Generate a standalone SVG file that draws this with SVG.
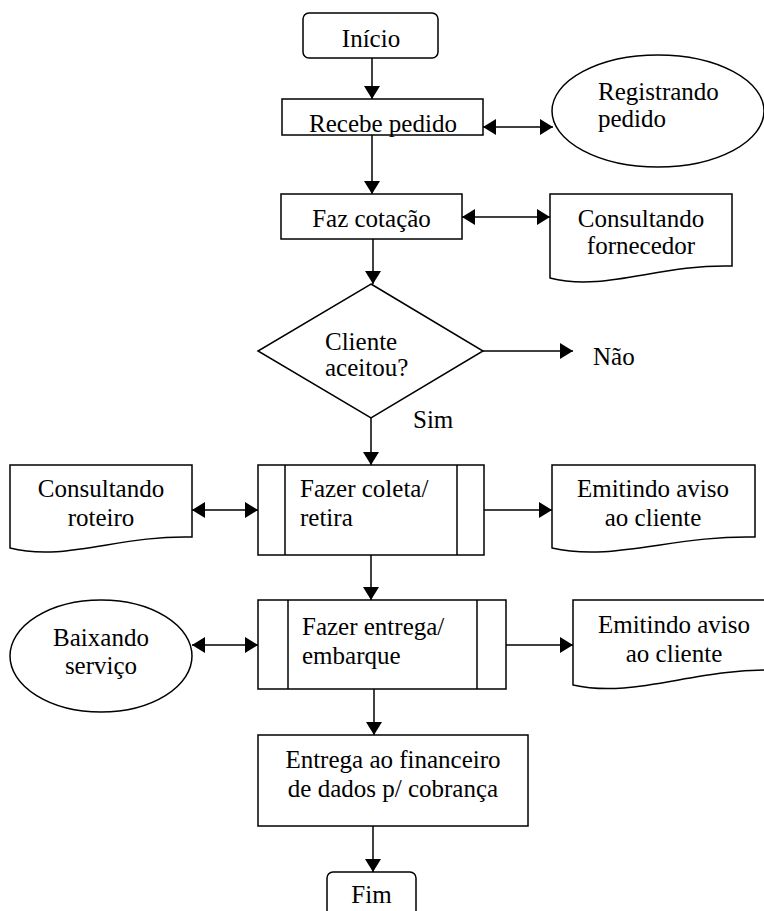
<svg xmlns="http://www.w3.org/2000/svg" width="764" height="911" viewBox="0 0 764 911">
<style>
.s{fill:#fff;stroke:#000;stroke-width:1.5}
.t{font-family:"Liberation Serif","Times New Roman",serif;font-size:25px;fill:#000}
.m{text-anchor:middle}
.c line{stroke:#000;stroke-width:1.5}
.e{marker-end:url(#ah)}
.b{marker-start:url(#ah);marker-end:url(#ah)}
</style>
<defs>
<marker id="ah" viewBox="0 0 13 16" refX="13" refY="8" markerWidth="13" markerHeight="16" orient="auto-start-reverse" markerUnits="userSpaceOnUse"><path d="M0,0 L13,8 L0,16 Z" fill="#000"/></marker>
</defs>
<rect width="764" height="911" fill="#fff"/>
<g class="c">
<line class="e" x1="372" y1="58" x2="372" y2="99"/>
<line class="b" x1="483" y1="127" x2="553" y2="127"/>
<line class="e" x1="372" y1="135" x2="372" y2="194"/>
<line class="b" x1="462" y1="217" x2="550" y2="217"/>
<line class="e" x1="373" y1="239" x2="373" y2="284"/>
<line class="e" x1="483" y1="351" x2="573" y2="351"/>
<line class="e" x1="371" y1="418" x2="371" y2="465"/>
<line class="b" x1="192" y1="510" x2="258" y2="510"/>
<line class="e" x1="484" y1="510" x2="552" y2="510"/>
<line class="e" x1="371" y1="555" x2="371" y2="600"/>
<line class="b" x1="192" y1="645" x2="258" y2="645"/>
<line class="e" x1="506" y1="645" x2="573" y2="645"/>
<line class="e" x1="374" y1="689" x2="374" y2="735"/>
<line class="e" x1="373" y1="826" x2="373" y2="872"/>
</g>
<g id="inicio"><rect class="s" x="303" y="13" width="135" height="45" rx="6"/><text class="t m" x="371" y="47">Início</text></g>
<g id="recebe"><rect class="s" x="282" y="99" width="201" height="36"/><text class="t m" x="383" y="132">Recebe pedido</text></g>
<g id="registrando"><ellipse class="s" cx="658" cy="111" rx="106" ry="56"/><text class="t" x="598" y="100">Registrando</text><text class="t" x="598" y="127">pedido</text></g>
<g id="faz"><rect class="s" x="281" y="194" width="181" height="45"/><text class="t m" x="371.5" y="227">Faz cotação</text></g>
<g id="fornecedor"><path class="s" d="M550,194 H732 V266 C659,264 605,292 550,278 Z"/><text class="t m" x="641" y="227">Consultando</text><text class="t m" x="641" y="254">fornecedor</text></g>
<g id="decisao"><polygon class="s" points="371,284 483,351 371,418 258,351"/><text class="t" x="325" y="350">Cliente</text><text class="t" x="325" y="376">aceitou?</text></g>
<g id="nao"><text class="t" x="593" y="365">Não</text></g>
<g id="sim"><text class="t" x="413" y="428">Sim</text></g>
<g id="coleta"><rect class="s" x="258" y="465" width="226" height="90"/><line x1="285" y1="465" x2="285" y2="555" stroke="#000" stroke-width="1.5"/><line x1="457" y1="465" x2="457" y2="555" stroke="#000" stroke-width="1.5"/><text class="t" x="300" y="497">Fazer coleta/</text><text class="t" x="300" y="526">retira</text></g>
<g id="roteiro"><path class="s" d="M10,465 H192 V537 C119,535 65,562 10,548 Z"/><text class="t m" x="101" y="497">Consultando</text><text class="t m" x="101" y="526">roteiro</text></g>
<g id="aviso1"><path class="s" d="M552,465 H755 V537 C674,535 613,562 552,548 Z"/><text class="t m" x="653" y="497">Emitindo aviso</text><text class="t m" x="653" y="526">ao cliente</text></g>
<g id="entrega"><rect class="s" x="258" y="600" width="248" height="89"/><line x1="288" y1="600" x2="288" y2="689" stroke="#000" stroke-width="1.5"/><line x1="477" y1="600" x2="477" y2="689" stroke="#000" stroke-width="1.5"/><text class="t" x="302" y="635">Fazer entrega/</text><text class="t" x="302" y="664">embarque</text></g>
<g id="baixando"><ellipse class="s" cx="101" cy="656" rx="91" ry="56"/><text class="t m" x="101" y="646">Baixando</text><text class="t m" x="101" y="674">serviço</text></g>
<g id="aviso2"><path class="s" d="M573,600 H776 V670 C695,668 634,699 573,685 Z"/><text class="t m" x="674" y="633">Emitindo aviso</text><text class="t m" x="674" y="662">ao cliente</text></g>
<g id="financeiro"><rect class="s" x="258" y="735" width="270" height="91"/><text class="t m" x="393" y="768">Entrega ao financeiro</text><text class="t m" x="393" y="797">de dados p/ cobrança</text></g>
<g id="fim"><rect class="s" x="327" y="872" width="89" height="60" rx="6"/><text class="t m" x="371.5" y="903">Fim</text></g>
</svg>
